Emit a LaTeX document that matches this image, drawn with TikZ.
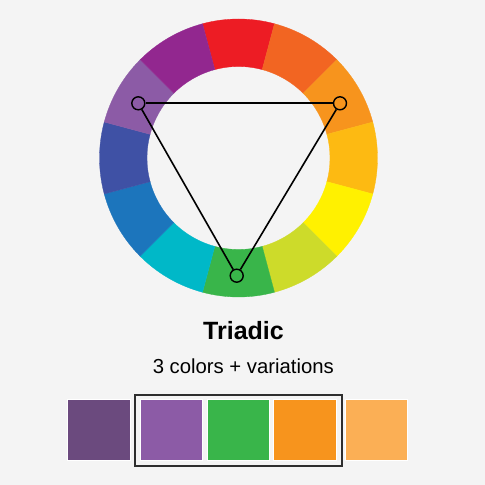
\documentclass[tikz,border=0pt]{standalone}
\usepackage{fontspec}
\setmainfont{Liberation Sans}
\usetikzlibrary{calc}
\definecolor{bg}{HTML}{F4F4F4}
\definecolor{cRed}{HTML}{ED1C24}
\definecolor{cRedOr}{HTML}{F26522}
\definecolor{cOrange}{HTML}{F7941D}
\definecolor{cYelOr}{HTML}{FDBA12}
\definecolor{cYellow}{HTML}{FFF100}
\definecolor{cYelGr}{HTML}{CDDB2A}
\definecolor{cGreen}{HTML}{39B54A}
\definecolor{cCyan}{HTML}{00B8C8}
\definecolor{cBlue}{HTML}{1C75BC}
\definecolor{cIndigo}{HTML}{3F51A5}
\definecolor{cViolet}{HTML}{8C5BA6}
\definecolor{cPurple}{HTML}{92278F}
\definecolor{cDarkPur}{HTML}{6B4A7E}
\definecolor{cLightOr}{HTML}{FBAF55}
\definecolor{frameGray}{HTML}{2E2E2E}
\tikzset{
  swatch/.style={draw=white, line width=0.8pt, minimum width=62.5pt, minimum height=61pt, inner sep=0pt, outer sep=0pt},
  vtx/.style={circle, draw=black, line width=1.4pt, minimum size=13pt, inner sep=0pt},
  tri/.style={draw=black, line width=1.6pt},
  framebox/.style={draw=frameGray, line width=1.8pt, inner sep=0pt},
}
\begin{document}
\begin{tikzpicture}[x=1pt,y=1pt]
\fill[bg] (0,0) rectangle (485,485);
\useasboundingbox (0,0) rectangle (485,485);
\coordinate (c) at (238.5,327);
\foreach \a/\col in {90/cRed,60/cRedOr,30/cOrange,0/cYelOr,-30/cYellow,-60/cYelGr,-90/cGreen,-120/cCyan,-150/cBlue,-180/cIndigo,150/cViolet,120/cPurple}{
  \filldraw[fill=\col, draw=\col, line width=0.3pt]
    ($(c)+(\a-15:139pt)$) arc[start angle=\a-15, end angle=\a+15, radius=139pt]
    -- ($(c)+(\a+15:91.5pt)$) arc[start angle=\a+15, end angle=\a-15, radius=91.5pt] -- cycle;
}
\node[vtx] (v1) at (138.3,381.7) {};
\node[vtx] (v2) at (340,381.7) {};
\node[vtx] (v3) at (236.7,209.3) {};
\draw[tri] (v1) -- (v2);
\draw[tri] (v2) -- (v3);
\draw[tri] (v3) -- (v1);
\node[anchor=base, font=\fontsize{25}{30}\selectfont\bfseries] (title) at (243.5,145.7) {Triadic};
\node[anchor=base, font=\fontsize{20.3}{24}\selectfont] (sub) at (243.3,111) {3 colors + variations};
\node[swatch, fill=cDarkPur] (s1) at (99,55) {};
\node[swatch, fill=cViolet] (s2) at (171.2,55) {};
\node[swatch, fill=cGreen] (s3) at (238.5,55) {};
\node[swatch, fill=cOrange] (s4) at (305,55) {};
\node[swatch, fill=cLightOr] (s5) at (376.5,55) {};
\node[framebox, minimum width=206.7pt, minimum height=71pt] (frame) at (238.35,54.8) {};
\end{tikzpicture}
\end{document}
